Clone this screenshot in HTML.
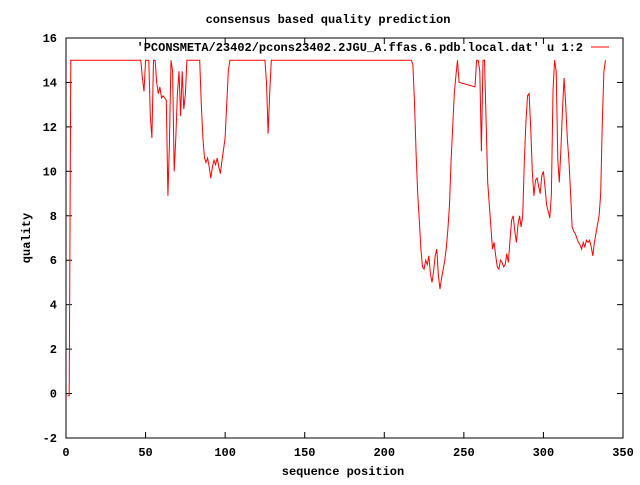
<!DOCTYPE html>
<html><head><meta charset="utf-8"><style>
body{margin:0;background:#fff}
svg text{font-family:"Liberation Mono",monospace;font-size:12px;font-weight:bold;fill:#000}
</style></head><body>
<svg width="640" height="480" xmlns="http://www.w3.org/2000/svg">
<text x="328" y="23" text-anchor="middle">consensus based quality prediction</text>
<text x="343" y="475" text-anchor="middle">sequence position</text>
<text transform="translate(30,238) rotate(-90)" text-anchor="middle">quality</text>
<g id="axes"></g>
<polyline id="line" fill="none" stroke="#f00" stroke-width="1"/>
<text x="583" y="51" text-anchor="end">'PCONSMETA/23402/pcons23402.2JGU_A.ffas.6.pdb.local.dat' u 1:2</text>
<line x1="591" y1="47" x2="609" y2="47" stroke="#f00"/>
<rect x="66" y="38" width="557" height="400" fill="none" stroke="#000"/>
</svg>
<script>
const xTicks=[0,50,100,150,200,250,300,350];
const yTicks=[-2,0,2,4,6,8,10,12,14,16];
const xs=[1,2,3,47,48,49,50,52,53,54,55,56,57,58,59,60,61,62,63,64,65,66,67,68,69,70,71,72,73,74,75,76,84,85,86,87,88,89,90,91,92,93,94,95,96,97,98,99,100,101,102,103,125,126,127,128,129,217,218,219,220,221,222,223,224,225,226,227,228,229,230,231,232,233,234,235,236,237,238,239,240,241,242,243,244,245,246,247,257,258,259,260,261,262,263,264,265,266,267,268,269,270,271,272,273,274,275,276,277,278,279,280,281,282,283,284,285,286,287,288,289,290,291,292,293,294,295,296,297,298,299,300,301,302,303,304,305,306,307,308,309,310,311,312,313,314,315,316,317,318,319,320,321,322,323,324,325,326,327,328,329,330,331,332,333,335,336,337,338,339];
const ys=[-0.1,-0.1,15,15,14.2,13.6,15,15,12.5,11.5,15,15,14,13.5,13.8,13.3,13.4,13.3,13.2,8.9,11.2,15,14.5,10,11.5,13.5,14.5,12.5,14.5,12.8,13.5,15,15,13,11.5,10.6,10.4,10.6,10.2,9.7,10.2,10.5,10.3,10.6,10.2,9.9,10.5,11,11.5,13,14.5,15,15,14,11.7,13.5,15,15,14.8,13.1,10.8,9,7.8,6.5,5.7,5.6,6,5.8,6.2,5.4,5,5.5,6.2,6.5,5.3,4.7,5.2,5.6,6,6.6,7.4,8.5,10.5,12,13.5,14.3,15,14,13.8,15,15,14.5,10.9,15,15,12.3,9.5,8.5,7.5,6.5,6.8,6.2,5.7,5.6,6,5.9,5.7,5.8,6.3,5.9,6.9,7.8,8,7.3,6.8,7.6,8,7.5,8,10.4,12.2,13.4,13.5,12,10,8.9,9.6,9.7,9.3,9,9.8,10,9.3,8.5,8.2,7.9,9,13.6,15,14.5,10.5,9.5,11,12.8,14.2,13,11.5,10.5,9.1,7.5,7.3,7.2,7,6.8,6.7,6.5,6.8,6.6,6.9,6.8,6.9,6.6,6.2,6.8,7.2,8,9,12.2,14.5,15,15,9.6,7.7,11.5,15];
const X0=66,X1=623,Y0=438,Y1=38;
const sx=v=>X0+(v-0)/(350-0)*(X1-X0);
const sy=v=>Y0-(v+2)/(16+2)*(Y0-Y1);
const g=document.getElementById('axes');
const NS='http://www.w3.org/2000/svg';
function mk(t,a){const e=document.createElementNS(NS,t);for(const k in a)e.setAttribute(k,a[k]);return e;}
xTicks.forEach(v=>{
 const x=sx(v);
 const t1=mk('line',{x1:x,y1:Y0,x2:x,y2:Y0-6,stroke:'#000'});
 
 
 g.appendChild(t1);
 const t2=mk('line',{x1:x,y1:Y1,x2:x,y2:Y1+6,stroke:'#000'});
 
 
 g.appendChild(t2);
 const l=mk('text',{x:x,y:Y0+18,'text-anchor':'middle'});
 l.textContent=v;
 
 
 g.appendChild(l);
});
yTicks.forEach(v=>{
 const y=sy(v);
 const t1=mk('line',{x1:X0,y1:y,x2:X0+6,y2:y,stroke:'#000'});
 
 
 g.appendChild(t1);
 const t2=mk('line',{x1:X1,y1:y,x2:X1-6,y2:y,stroke:'#000'});
 
 
 g.appendChild(t2);
 const l=mk('text',{x:X0-9,y:y+4,'text-anchor':'end'});
 l.textContent=v;
 
 
 g.appendChild(l);
});
document.getElementById('line').setAttribute('points',xs.map((x,i)=>sx(x).toFixed(1)+','+sy(ys[i]).toFixed(1)).join(' '));
</script>
</body></html>
